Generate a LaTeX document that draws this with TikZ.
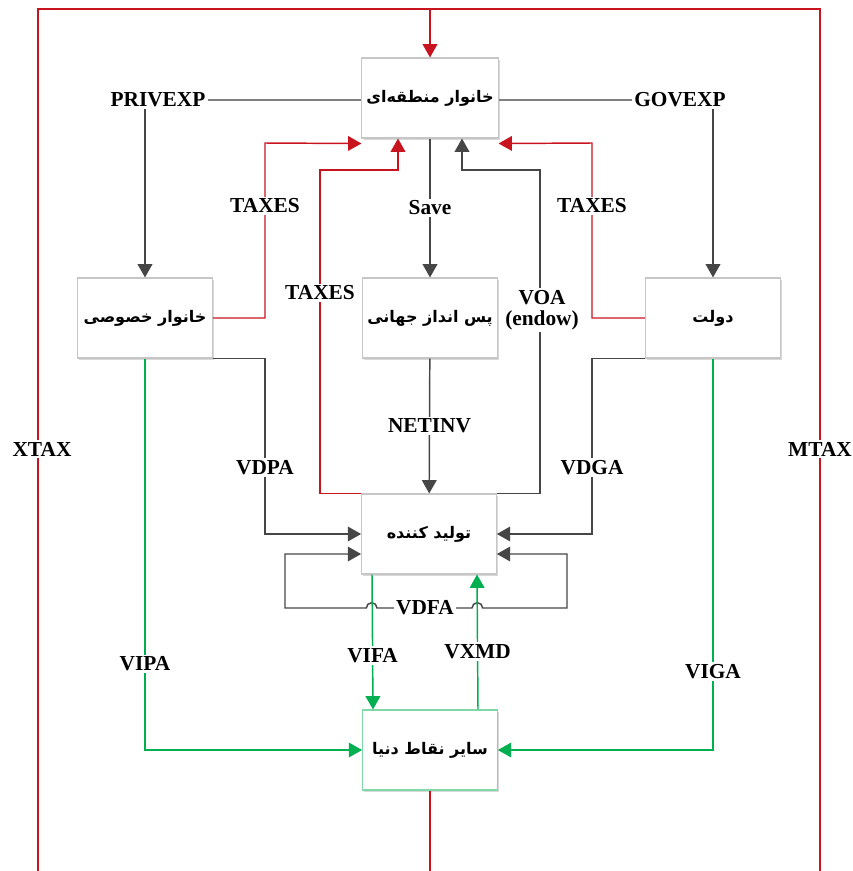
\documentclass[tikz,border=0pt]{standalone}
\usepackage{fontspec}
\setmainfont{Liberation Serif}
\newfontfamily\farsi[Script=Arabic]{DejaVu Sans}
\TeXXeTstate=1
\usetikzlibrary{arrows.meta,calc,shadows}

\definecolor{taxred}{RGB}{200,20,30}
\definecolor{flowgreen}{RGB}{0,176,80}
\definecolor{flowgray}{RGB}{70,70,70}

\tikzset{
	agent/.style={draw=gray!45, fill=white, line width=0.8pt, minimum width=101pt, minimum height=60pt,
		font=\farsi\bfseries\fontsize{12}{14}\selectfont,
		drop shadow={shadow xshift=1.2pt, shadow yshift=-1.2pt, opacity=0.3}},
	lab/.style={fill=white, text=black, inner sep=1.5pt, align=center, font=\bfseries\fontsize{16}{16}\selectfont},
	arr/.style={-{Triangle[length=10pt,width=11pt]}},
	tax/.style={taxred, line width=1.1pt},
	gflow/.style={flowgreen, line width=1.1pt},
	dflow/.style={flowgray, line width=1.1pt}
}

\begin{document}
\begin{tikzpicture}[x=0.75pt,y=-0.75pt]
	\useasboundingbox (0,0) rectangle (853,871);
	% agents
	\node[agent] (hh) at (430,98) {\beginR خانوار منطقه‌ای\endR};
	\node[agent] (priv) at (145,318) {\beginR خانوار خصوصی\endR};
	\node[agent] (sav) at (430,318) {\beginR پس انداز جهانی\endR};
	\node[agent] (gov) at (713,318) {\beginR دولت\endR};
	\node[agent] (prod) at (429,534) {\beginR تولید کننده\endR};
	\node[agent, draw=flowgreen!50] (row) at (430,750) {\beginR سایر نقاط دنیا\endR};

	% tax frame
	\coordinate (xbot) at (38,871);
	\coordinate (mbot) at (820,871);
	\coordinate (top) at (430,9);
	\coordinate (rbot) at (430,871);
	\draw[tax] (xbot) |- (820,9) -- (mbot);
	\node[lab] (xtax) at (42,449) {XTAX};
	\node[lab] (mtax) at (820,449) {MTAX};
	\draw[tax,arr] (top) -- (hh);
	\draw[tax] (row) -- (rbot);

	% expenditure
	\node[lab] (pe) at (158,100) {PRIVEXP};
	\node[lab] (ge) at (680,100) {GOVEXP};
	\draw[gray, line width=1pt] (pe.east) -- (pe.east -| hh.west);
	\draw[gray, line width=1pt] (hh.east |- ge.west) -- (ge.west);
	\draw[dflow,arr] (pe.south -| priv.north) -- (priv);
	\draw[dflow,arr] (ge.south -| gov.north) -- (gov);

	% taxes and savings
	\draw[tax,arr] (priv.east) -| node[lab,pos=0.82]{TAXES} (265,143) -- ($(hh.south west)+(0,5)$);
	\draw[tax,arr] (gov.west) -| node[lab,pos=0.82]{TAXES} (592,143) -- ($(hh.south east)+(0,5)$);
	\draw[tax,arr] (prod.north west) -| node[lab,pos=0.81]{TAXES} (320,170) -| ($(hh.south)+(-32,0)$);
	\draw[dflow,arr] (prod.north east) -| (540,170) -| ($(hh.south)+(32,0)$);
	\node[lab] (voa) at (542,310) {VOA\\(endow)};
	\draw[dflow,arr] (hh) -- node[lab]{Save} (sav);
	\draw[dflow,arr] (sav) -- node[lab]{NETINV} (prod);

	% domestic purchases
	\draw[dflow,arr] (priv.south east) -| node[lab,pos=0.81]{VDPA} (265,534) -- (prod.west);
	\draw[dflow,arr] (gov.south west) -| node[lab,pos=0.81]{VDGA} (592,534) -- (prod.east);
	\node[lab] (vdfa) at (425,608) {VDFA};
	\draw[dflow,arr] (vdfa.west) -- (377,608) arc[start angle=0,end angle=180,radius=4pt] -- (285,608) |- ($(prod.west)+(0,20)$);
	\draw[dflow,arr] (vdfa.east) -- (472,608) arc[start angle=180,end angle=0,radius=4pt] -- (567,608) |- ($(prod.east)+(0,20)$);

	% trade
	\draw[gflow,arr] ($(prod.south)+(-57,0)$) -- node[lab,pos=0.6]{VIFA} ($(row.north)+(-57,0)$);
	\draw[gflow,arr] ($(row.north)+(48,0)$) -- node[lab,pos=0.43]{VXMD} ($(prod.south)+(48,0)$);
	\draw[gflow,arr] (priv.south) |- node[lab,pos=0.39]{VIPA} (row.west);
	\draw[gflow,arr] (gov.south) |- node[lab,pos=0.40]{VIGA} (row.east);
\end{tikzpicture}
\end{document}
